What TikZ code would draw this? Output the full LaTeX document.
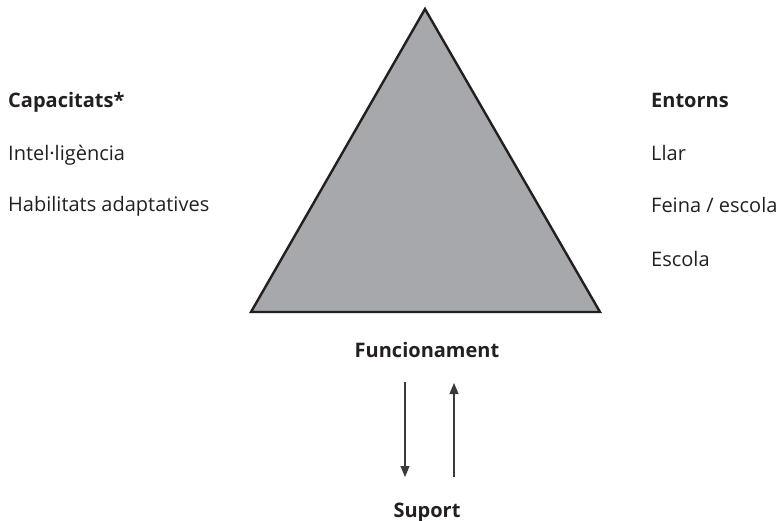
\documentclass[tikz,border=0pt]{standalone}
\usepackage{fontspec}
\setmainfont{Open Sans}
\usetikzlibrary{arrows.meta}
\definecolor{trifill}{HTML}{A7A8AC}
\definecolor{ink}{HTML}{231F20}
\definecolor{arrowc}{HTML}{3A3A3A}
\begin{document}
\begin{tikzpicture}[x=1pt,y=-1pt,
  lbl/.style={anchor=base west,inner sep=0pt,text=ink,font=\fontsize{20}{24}\selectfont},
  lblb/.style={lbl,font=\fontsize{20}{24}\selectfont\bfseries},
  lblc/.style={anchor=base,inner sep=0pt,text=ink,font=\fontsize{20}{24}\selectfont\bfseries},
  flow/.style={draw=arrowc,line width=1.1pt,-{Triangle[length=11pt,width=9pt]}}]
\useasboundingbox (0,0) rectangle (779,521);
\draw[fill=trifill,draw=ink,line width=2.4pt,line join=miter] (425,9) -- (251,312) -- (600,312) -- cycle;
\node[lblb] (cap) at (8,108) {Capacitats*};
\node[lbl] (int) at (8,161) {Intel·ligència};
\node[lbl] (hab) at (8,212) {Habilitats adaptatives};
\node[lblb] (ent) at (651,108) {Entorns};
\node[lbl] (llar) at (651,161) {Llar};
\node[lbl] (fei) at (651,213) {Feina / escola};
\node[lbl] (esc) at (651,267) {Escola};
\node[lblc] (fun) at (427,357) {Funcionament};
\node[lblc] (sup) at (427,517) {Suport};
\coordinate (d1) at (405,382);
\coordinate (d2) at (405,477);
\coordinate (u1) at (454,477);
\coordinate (u2) at (454,383);
\draw[flow] (d1) -- (d2);
\draw[flow] (u1) -- (u2);
\end{tikzpicture}
\end{document}
